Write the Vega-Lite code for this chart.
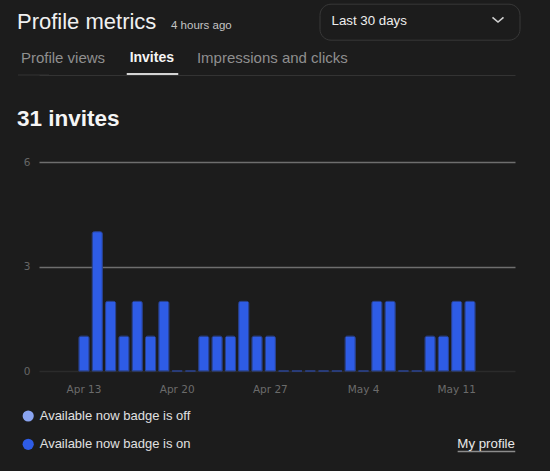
{
  "$schema": "https://vega.github.io/schema/vega-lite/v6.json",
  "autosize": {"type": "none"},
  "width": 476,
  "height": 209,
  "padding": {"left": 39, "top": 162, "right": 35, "bottom": 100},
  "background": "#1c1c1c",
  "config": {"view": {"stroke": null}, "font": "Liberation Sans"},
  "resolve": {"scale": {"x": "independent", "y": "independent"}},
  "layer": [
    {
      "data": {"values": [
        {"day": "Apr 13", "invites": 1, "badge": "Available now badge is on"},
        {"day": "Apr 14", "invites": 4, "badge": "Available now badge is on"},
        {"day": "Apr 15", "invites": 2, "badge": "Available now badge is on"},
        {"day": "Apr 16", "invites": 1, "badge": "Available now badge is on"},
        {"day": "Apr 17", "invites": 2, "badge": "Available now badge is on"},
        {"day": "Apr 18", "invites": 1, "badge": "Available now badge is on"},
        {"day": "Apr 19", "invites": 2, "badge": "Available now badge is on"},
        {"day": "Apr 20", "invites": 0, "badge": "Available now badge is on"},
        {"day": "Apr 21", "invites": 0, "badge": "Available now badge is on"},
        {"day": "Apr 22", "invites": 1, "badge": "Available now badge is on"},
        {"day": "Apr 23", "invites": 1, "badge": "Available now badge is on"},
        {"day": "Apr 24", "invites": 1, "badge": "Available now badge is on"},
        {"day": "Apr 25", "invites": 2, "badge": "Available now badge is on"},
        {"day": "Apr 26", "invites": 1, "badge": "Available now badge is on"},
        {"day": "Apr 27", "invites": 1, "badge": "Available now badge is on"},
        {"day": "Apr 28", "invites": 0, "badge": "Available now badge is on"},
        {"day": "Apr 29", "invites": 0, "badge": "Available now badge is on"},
        {"day": "Apr 30", "invites": 0, "badge": "Available now badge is on"},
        {"day": "May 1", "invites": 0, "badge": "Available now badge is on"},
        {"day": "May 2", "invites": 0, "badge": "Available now badge is on"},
        {"day": "May 3", "invites": 1, "badge": "Available now badge is on"},
        {"day": "May 4", "invites": 0, "badge": "Available now badge is on"},
        {"day": "May 5", "invites": 2, "badge": "Available now badge is on"},
        {"day": "May 6", "invites": 2, "badge": "Available now badge is on"},
        {"day": "May 7", "invites": 0, "badge": "Available now badge is on"},
        {"day": "May 8", "invites": 0, "badge": "Available now badge is on"},
        {"day": "May 9", "invites": 1, "badge": "Available now badge is on"},
        {"day": "May 10", "invites": 1, "badge": "Available now badge is on"},
        {"day": "May 11", "invites": 2, "badge": "Available now badge is on"},
        {"day": "May 12", "invites": 2, "badge": "Available now badge is on"}
      ]},
      "mark": {"type": "bar", "stroke": "#2a4494", "strokeWidth": 1, "cornerRadiusTopLeft": 2, "cornerRadiusTopRight": 2},
      "encoding": {
        "x": {
          "field": "day", "type": "ordinal",
          "scale": {
            "domain": ["Apr 10","Apr 11","Apr 12","Apr 13","Apr 14","Apr 15","Apr 16","Apr 17","Apr 18","Apr 19","Apr 20","Apr 21","Apr 22","Apr 23","Apr 24","Apr 25","Apr 26","Apr 27","Apr 28","Apr 29","Apr 30","May 1","May 2","May 3","May 4","May 5","May 6","May 7","May 8","May 9","May 10","May 11","May 12","May 13","May 14","May 15"],
            "paddingInner": 0.24, "paddingOuter": 0
          },
          "axis": {
            "orient": "bottom",
            "values": ["Apr 13","Apr 20","Apr 27","May 4","May 11"],
            "title": null, "ticks": false, "domain": false, "grid": false,
            "labelAngle": 0, "labelFont": "DejaVu Sans", "labelFontSize": 10.5,
            "labelColor": "#6b6b6b", "labelPadding": 21, "labelBaseline": "alphabetic"
          }
        },
        "y": {
          "field": "invites", "type": "quantitative",
          "scale": {"domain": [0, 6]},
          "axis": {
            "orient": "left",
            "values": [0, 3, 6],
            "ticks": false, "domain": false,
            "grid": true, "gridWidth": 1.3,
            "gridColor": {"condition": {"test": "datum.value === 0", "value": "#2b2b2b"}, "value": "#6e6e6e"},
            "labelFont": "DejaVu Sans", "labelFontSize": 10.5, "labelColor": "#666666", "labelPadding": 9,
            "title": "31 invites", "titleAngle": 0, "titleX": -22.5, "titleY": -36.3,
            "titleAlign": "left", "titleBaseline": "alphabetic",
            "titleFont": "Liberation Sans", "titleFontSize": 22.5, "titleFontWeight": "bold", "titleColor": "#f5f5f5"
          }
        },
        "color": {
          "field": "badge", "type": "nominal",
          "scale": {"domain": ["Available now badge is off", "Available now badge is on"], "range": ["#8aa4f0", "#2e5ce6"]},
          "legend": {
            "orient": "none", "legendX": -17.3, "legendY": 247.5, "title": null, "direction": "vertical",
            "symbolType": "circle", "symbolSize": 125, "symbolStrokeWidth": 0, "symbolOpacity": 1,
            "labelFont": "Liberation Sans", "labelFontSize": 13, "labelColor": "#e0e0e0", "labelOffset": 5,
            "rowPadding": 14.3, "padding": 0
          }
        }
      }
    },
    {
      "data": {"values": [
        {"tab": "Profile views"},
        {"tab": "Invites"},
        {"tab": "Impressions and clicks"}
      ]},
      "mark": {"type": "point", "opacity": 0},
      "encoding": {
        "x": {
          "field": "tab", "type": "nominal", "sort": null,
          "scale": {"type": "point", "domain": ["Profile views", "Invites", "Impressions and clicks"], "padding": 1, "align": 0},
          "axis": {
            "orient": "top", "offset": 87, "grid": false,
            "domain": true, "domainColor": "#333333", "domainWidth": 1,
            "ticks": true, "tickOffset": -6,
            "tickColor": {"condition": {"test": "datum.value === 'Invites'", "value": "#d4d4d4"}, "value": "#333333"},
            "tickWidth": {"condition": [{"test": "datum.value === 'Invites'", "value": 51.5}, {"test": "datum.value === 'Profile views'", "value": 31}], "value": 0},
            "tickSize": {"condition": {"test": "datum.value === 'Invites'", "value": 2.6}, "value": 1},
            "labelOverlap": false, "labelBound": false, "labelFlush": false, "labelAngle": 0,
            "labelFont": "Liberation Sans",
            "labelFontSize": {"condition": {"test": "datum.value === 'Invites'", "value": 14}, "value": 15},
            "labelColor": {"condition": {"test": "datum.value === 'Invites'", "value": "#f5f5f5"}, "value": "#8f8f8f"},
            "labelFontWeight": {"condition": {"test": "datum.value === 'Invites'", "value": "bold"}, "value": "normal"},
            "labelAlign": {"condition": {"test": "datum.value === 'Invites'", "value": "center"}, "value": "left"},
            "labelOffset": {"condition": [{"test": "datum.value === 'Profile views'", "value": -12.6}, {"test": "datum.value === 'Impressions and clicks'", "value": -74.6}], "value": -0.7},
            "labelBaseline": "alphabetic", "labelPadding": 11.3,
            "title": "Profile metrics", "titleAngle": 0, "titleX": -22.5, "titleY": -46.5,
            "titleAlign": "left", "titleBaseline": "alphabetic",
            "titleFont": "Liberation Sans", "titleFontSize": 22, "titleFontWeight": "normal", "titleColor": "#f0f0f0"
          }
        },
        "y": {
          "field": "tab", "type": "nominal",
          "axis": {
            "orient": "right", "labels": false, "ticks": false, "domain": false, "grid": false,
            "title": "4 hours ago", "titleAngle": 0, "titleX": -344.5, "titleY": -134,
            "titleAlign": "left", "titleBaseline": "alphabetic",
            "titleFont": "Liberation Sans", "titleFontSize": 11.5, "titleFontWeight": "normal", "titleColor": "#c4c4c4"
          }
        }
      }
    },
    {
      "data": {"values": [{"period": "Last 30 days"}]},
      "mark": {"type": "point", "filled": false, "color": "#d0d0d0", "opacity": 0},
      "encoding": {
        "shape": {
          "field": "period", "type": "nominal",
          "scale": {"range": ["M-2.2,-0.94L0,0.94L2.2,-0.94"]},
          "legend": {
            "orient": "none", "legendX": 280.5, "legendY": -158.3,
            "title": "Last 30 days", "titleOrient": "left", "titlePadding": 86.5,
            "titleFont": "Liberation Sans", "titleFontSize": 13.3, "titleFontWeight": "normal", "titleColor": "#eeeeee",
            "labelExpr": "''", "labelFontSize": 8, "labelOffset": 0,
            "symbolSize": 25, "symbolStrokeWidth": 1.6, "symbolOpacity": 1,
            "symbolStrokeColor": "#d0d0d0", "symbolFillColor": "transparent",
            "padding": 12, "strokeColor": "#383838", "cornerRadius": 11
          }
        }
      }
    },
    {
      "data": {"values": [{"link": "My profile"}]},
      "mark": {"type": "point", "filled": false, "color": "#8c8c8c", "opacity": 0},
      "encoding": {
        "strokeWidth": {
          "field": "link", "type": "ordinal",
          "scale": {"range": [1.6, 1.6]},
          "legend": {
            "orient": "none", "legendX": 405, "legendY": 275.3, "title": null,
            "symbolType": "M7,7.5H64.6", "symbolSize": 4, "symbolOpacity": 1,
            "symbolStrokeColor": "#8c8c8c", "labelOffset": 0,
            "labelFont": "Liberation Sans", "labelFontSize": 13.3, "labelColor": "#e8e8e8", "padding": 0
          }
        }
      }
    }
  ]
}
